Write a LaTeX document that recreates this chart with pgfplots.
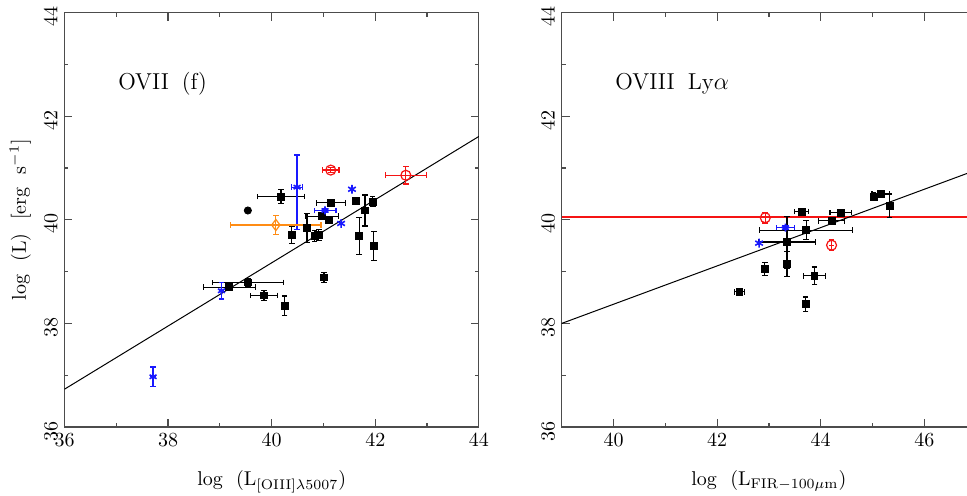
\documentclass[border=0pt]{standalone}
\usepackage{pgfplots}
\pgfplotsset{compat=1.18}
\usepackage{pgfplotstable}

\definecolor{pgblue}{RGB}{25,25,255}
\definecolor{pgorange}{RGB}{255,140,20}
\definecolor{pgred}{RGB}{245,20,20}

% OVII (f): x y ex ey
\pgfplotstableread{
x     y     ex    ey
40.18 40.45 0.46 0.14
40.39 39.71 0.00 0.16
40.68 39.84 0.00 0.28
40.97 40.07 0.32 0.05
41.11 40.00 0.00 0.04
41.14 40.33 0.28 0.04
40.83 39.69 0.00 0.11
40.91 39.71 0.00 0.11
41.63 40.37 0.00 0.03
41.80 40.18 0.00 0.30
41.95 40.35 0.00 0.10
41.69 39.69 0.00 0.36
41.97 39.49 0.00 0.28
41.01 38.89 0.00 0.10
39.18 38.70 0.50 0.06
39.54 38.79 0.69 0.08
39.85 38.54 0.26 0.10
40.25 38.34 0.00 0.19
}\leftblack

\pgfplotstableread{
x     y     exp  exm  eyp  eym
40.49 40.63 0.10 0.10 0.62 0.81
41.03 40.18 0.21 0.21 0.04 0.04
39.03 38.63 0.00 0.00 0.16 0.16
37.71 36.97 0.00 0.00 0.19 0.19
}\leftblueerr

\pgfplotstableread{
x     y
41.55 40.59
41.34 39.93
}\leftblue

\pgfplotstableread{
x     y     ex   ey
41.14 40.96 0.16 0.05
42.59 40.86 0.40 0.17
}\leftred

\pgfplotstableread{
x     y     ex   ey
40.08 39.90 0.87 0.19
}\leftorange

% OVIII Lya
\pgfplotstableread{
x     y     ex   ey
43.35 39.57 0.55 0.50
43.35 39.15 0.00 0.24
43.72 39.80 0.90 0.18
43.63 40.16 0.14 0.03
44.39 40.14 0.21 0.03
44.21 39.98 0.25 0.03
42.92 39.05 0.00 0.13
42.43 38.61 0.10 0.05
43.88 38.92 0.21 0.17
43.71 38.37 0.00 0.14
45.02 40.45 0.00 0.08
45.16 40.50 0.17 0.05
45.33 40.27 0.00 0.23
}\rightblack

\pgfplotstableread{
x     y     ex   ey
43.32 39.85 0.17 0.03
}\rightblueerr

\pgfplotstableread{
x     y     ex   ey
42.93 40.04 0.00 0.10
44.21 39.51 0.00 0.10
}\rightred

\pgfplotstableread{
x     y
42.81 39.55
}\rightblue

\pgfplotsset{
  panel/.style={
    scale only axis, width=207.2pt, height=207.2pt,
    ymin=36, ymax=44,
    xtick distance=2, ytick distance=2, minor tick num=1,
    tick align=inside, major tick length=4pt, minor tick length=2pt,
    axis line style={black!70, line width=0.6pt},
    every tick/.style={black!70, line width=0.6pt},
    yticklabel style={rotate=90, anchor=south, xshift=-2pt},
    xlabel style={yshift=-5pt},
    tick label style={font=\normalsize},
    label style={font=\normalsize},
  },
  ebars/.style={
    error bars/.cd, x dir=both, x explicit, y dir=both, y explicit,
    error mark=-,
    error bar style={line width=0.6pt, draw=#1},
    error mark options={rotate=90, line width=0.6pt, mark size=1.4pt, draw=#1},
  },
}
\tikzset{paneltitle/.style={anchor=west, inner sep=0pt,
  font=\fontsize{11.5}{14}\selectfont}}

\begin{document}
\begin{tikzpicture}
  \begin{axis}[panel, name=left, at={(0,0)}, anchor=south west,
      xmin=36, xmax=44,
      xlabel={log~~(L$_{\rm [OIII]\lambda5007}$)},
      ylabel={log~~(L)~~[erg~~s$^{-1}$]},
    ]
    \addplot[black, line width=0.5pt] coordinates {(36,36.73)(44,41.61)};
    \addplot[only marks, mark=square*, mark size=1.7pt, black, ebars=black]
      table[x=x, y=y, x error=ex, y error=ey] {\leftblack};
    \addplot[only marks, mark=*, mark size=1.8pt, black] coordinates {(39.54,40.18)};
    \addplot[only marks, mark=asterisk, mark size=2pt, pgblue,
      mark options={line width=0.8pt}, ebars=pgblue]
      table[x=x, y=y, x error plus=exp, x error minus=exm,
            y error plus=eyp, y error minus=eym] {\leftblueerr};
    \addplot[only marks, mark=asterisk, mark size=2.2pt, pgblue,
      mark options={line width=0.8pt}] table[x=x, y=y] {\leftblue};
    \addplot[only marks, mark=o, mark size=2.5pt, pgred,
      mark options={line width=0.6pt}, ebars=pgred]
      table[x=x, y=y, x error=ex, y error=ey] {\leftred};
    \addplot[only marks, mark=diamond, mark size=2.8pt, pgorange,
      mark options={line width=0.6pt}, ebars=pgorange]
      table[x=x, y=y, x error=ex, y error=ey] {\leftorange};
    \node[paneltitle] at (axis cs:37.03,42.63) {OVII\hspace{6.5pt}(f)};
  \end{axis}

  \begin{axis}[panel, name=right, at={(248.6pt,0)}, anchor=south west,
      xmin=39, xmax=47,
      xlabel={log~~(L$_{\rm FIR-100\mu m}$)},
    ]
    \addplot[color=pgred, line width=0.85pt] coordinates {(39,40.05)(47,40.05)};
    \addplot[black, line width=0.5pt] coordinates {(39,38.0)(47,40.96)};
    \addplot[only marks, mark=square*, mark size=1.7pt, black, ebars=black]
      table[x=x, y=y, x error=ex, y error=ey] {\rightblack};
    \addplot[only marks, mark=asterisk, mark size=2pt, pgblue,
      mark options={line width=0.8pt}, ebars=pgblue]
      table[x=x, y=y, x error=ex, y error=ey] {\rightblueerr};
    \addplot[only marks, mark=asterisk, mark size=2.2pt, pgblue,
      mark options={line width=0.8pt}] table[x=x, y=y] {\rightblue};
    \addplot[only marks, mark=o, mark size=2.5pt, pgred,
      mark options={line width=0.6pt}, ebars=pgred]
      table[x=x, y=y, x error=ex, y error=ey] {\rightred};
    \node[paneltitle] at (axis cs:40.03,42.63) {OVIII\hspace{6.5pt}Ly$\alpha$};
  \end{axis}

  \pgfresetboundingbox
  \useasboundingbox (-32.25pt,-34pt) rectangle (451.25pt,213.5pt);
\end{tikzpicture}
\end{document}
